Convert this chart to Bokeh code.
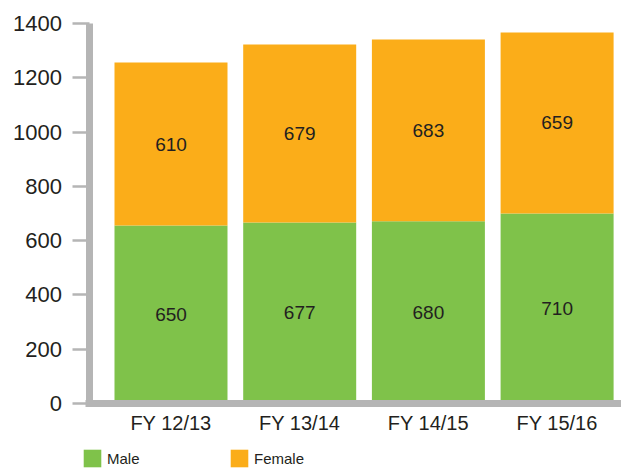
from bokeh.plotting import figure
from bokeh.models import ColumnDataSource, Range1d, FixedTicker, Legend, LegendItem
from bokeh.embed import file_html
from bokeh.resources import INLINE
from bokeh.core.properties import value

# ---- data ----
categories = ["FY 12/13", "FY 13/14", "FY 14/15", "FY 15/16"]
male = [656, 667, 671, 700]
female = [600, 656, 670, 667]
male_labels = ["650", "677", "680", "710"]
female_labels = ["610", "679", "683", "659"]
y_ticks = [0, 200, 400, 600, 800, 1000, 1200, 1400]

GREEN = "#7fc24a"
ORANGE = "#fbad19"
GRAY = "#b5b5b5"
TEXT = "#231f20"
FONT = "Liberation Sans"

xs = list(range(len(categories)))
total = [m + f for m, f in zip(male, female)]
src = ColumnDataSource(dict(
    x=xs,
    male=male,
    total=total,
    male_mid=[m / 2 for m in male],
    female_mid=[m + f / 2 for m, f in zip(male, female)],
    male_label=male_labels,
    female_label=female_labels,
))

X_START, X_END = -1.3248, 3.5004
Y_START, Y_END = -239.5, 1484.7
Y_AXIS_X = -0.637

p = figure(width=621, height=468, output_backend="svg", toolbar_location=None,
           x_range=Range1d(X_START, X_END), y_range=Range1d(Y_START, Y_END),
           min_border_left=0, min_border_right=0, min_border_top=0,
           min_border_bottom=0)

r_male = p.vbar(x="x", width=0.878, bottom=0, top="male", source=src,
                fill_color=GREEN, line_color=None)
r_female = p.vbar(x="x", width=0.878, bottom="male", top="total", source=src,
                  fill_color=ORANGE, line_color=None)

for ycol, tcol in (("male_mid", "male_label"), ("female_mid", "female_label")):
    p.text(x="x", y=ycol, text=tcol, source=src, text_align="center",
           text_baseline="middle", text_font=value(FONT),
           text_font_size="19px", text_color=TEXT)

p.xgrid.visible = False
p.ygrid.visible = False
p.outline_line_color = None

xa = p.xaxis[0]
xa.fixed_location = 0
xa.bounds = (-0.668, X_END)
xa.ticker = FixedTicker(ticks=xs)
xa.major_label_overrides = {i: c for i, c in enumerate(categories)}
xa.major_tick_line_color = None
xa.major_tick_out = 0
xa.major_tick_in = 0
xa.minor_tick_line_color = None
xa.axis_line_width = 7
xa.axis_line_color = GRAY
xa.major_label_text_font = FONT
xa.major_label_text_font_size = "20px"
xa.major_label_text_color = TEXT
xa.major_label_standoff = 9

ya = p.yaxis[0]
ya.fixed_location = Y_AXIS_X
ya.bounds = (0, 1400)
ya.ticker = FixedTicker(ticks=y_ticks)
ya.major_tick_out = 17
ya.major_tick_in = 0
ya.major_tick_line_width = 2.5
ya.major_tick_line_color = GRAY
ya.minor_tick_line_color = None
ya.axis_line_width = 7
ya.axis_line_color = GRAY
ya.major_label_text_font = FONT
ya.major_label_text_font_size = "22px"
ya.major_label_text_color = TEXT
ya.major_label_standoff = 10

legend = Legend(items=[LegendItem(label="Male", renderers=[r_male]),
                       LegendItem(label="Female", renderers=[r_female])],
                orientation="horizontal", location=(81, -1),
                glyph_width=22, glyph_height=22, label_standoff=4,
                label_width=121, spacing=0, padding=0, margin=0,
                border_line_color=None, background_fill_alpha=0,
                label_text_font=FONT, label_text_font_size="15px",
                label_text_color=TEXT)
p.add_layout(legend)

open("out.html", "w").write(file_html(p, INLINE))
